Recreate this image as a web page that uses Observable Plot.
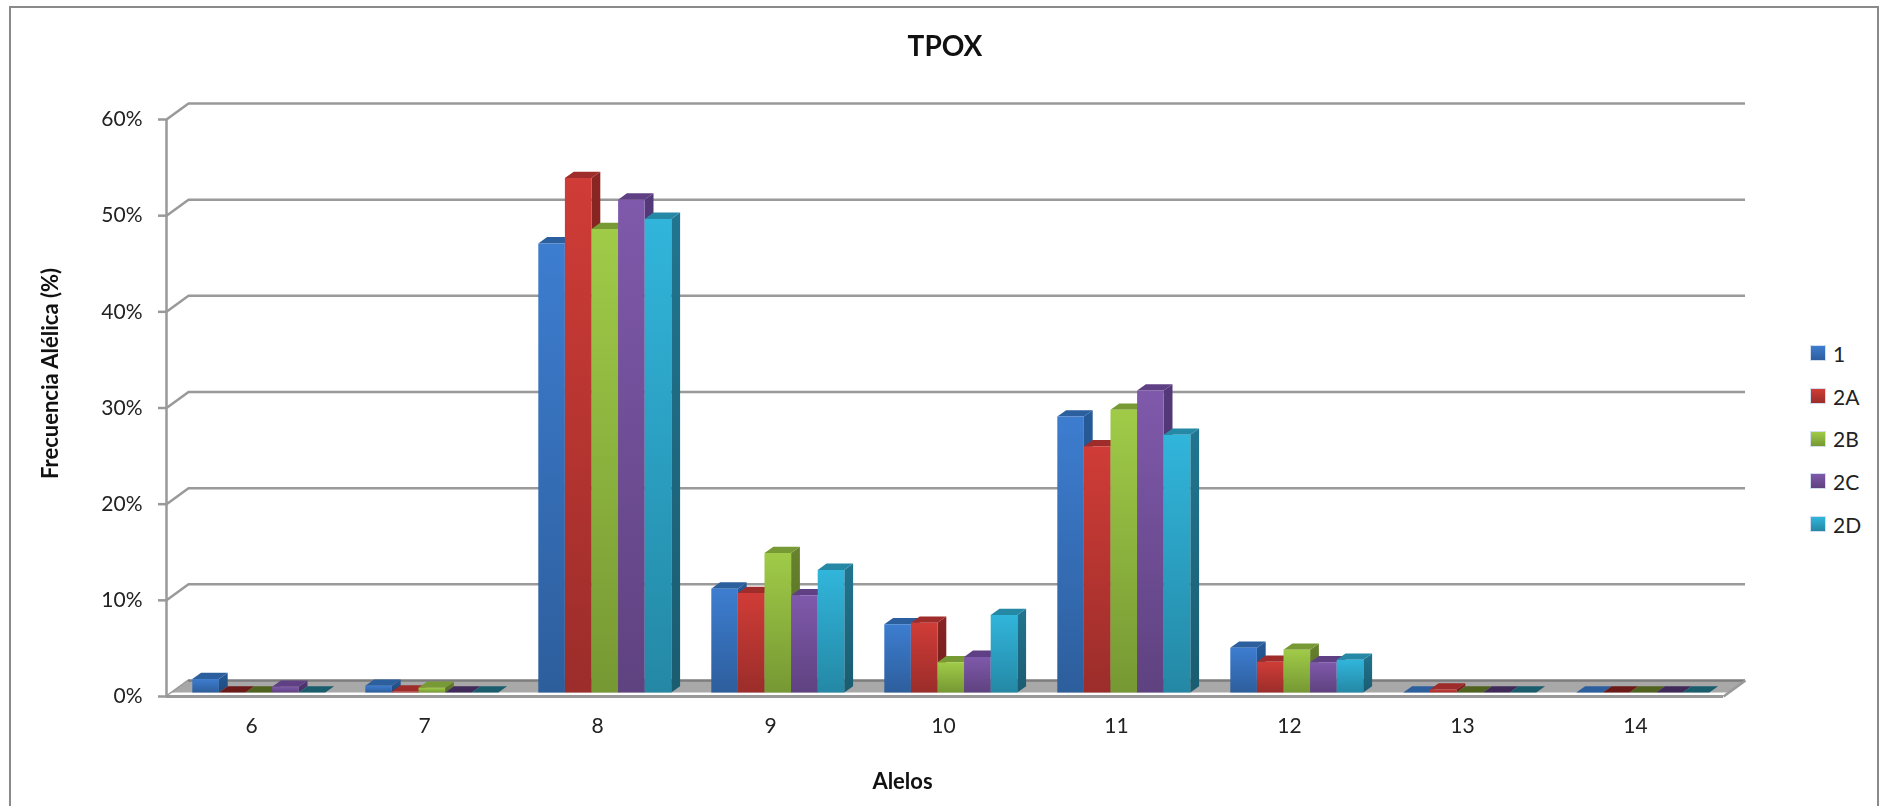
<!DOCTYPE html>
<html lang="es">
<head>
<meta charset="utf-8">
<title>TPOX</title>
<script src="https://cdn.jsdelivr.net/npm/d3@7"></script>
<script src="https://cdn.jsdelivr.net/npm/@observablehq/plot@0.6"></script>
<style>
  html, body { margin: 0; padding: 0; background: #fff; }
  #wrap { position: relative; width: 1881px; height: 806px; overflow: hidden; font-family: Lato, sans-serif; }
  #wrap svg { position: absolute; left: 0; top: 0; filter: blur(0.4px); }
  #border { position: absolute; left: 9px; top: 6px; width: 1870px; height: 820px; border: 2px solid #8a8a8a; box-sizing: border-box; pointer-events: none; }
  #legend { position: absolute; left: 1811px; top: 332px; }
  .item { display: flex; align-items: center; height: 42.7px; font-size: 21px; color: #222; }
  .sw { width: 14px; height: 14px; margin-right: 8px; outline: 1px solid rgba(200,215,235,.8); }
</style>
</head>
<body>
<div id="wrap"><div id="border"></div><div id="legend"></div></div>
<script>
const alleles = ["6", "7", "8", "9", "10", "11", "12", "13", "14"];
const seriesNames = ["1", "2A", "2B", "2C", "2D"];
const s1  = [1.4, 0.7, 46.7, 10.8, 7.1, 28.7, 4.65, 0, 0];
const s2A = [0, 0.1, 53.5, 10.35, 7.25, 25.6, 3.2, 0.3, 0];
const s2B = [0, 0.5, 48.2, 14.5, 3.15, 29.4, 4.45, 0, 0];
const s2C = [0.6, 0, 51.25, 10.1, 3.7, 31.4, 3.15, 0, 0];
const s2D = [0, 0, 49.25, 12.75, 8.05, 26.8, 3.4, 0, 0];
const seriesValues = [s1, s2A, s2B, s2C, s2D];
const yTicks = [0, 10, 20, 30, 40, 50, 60];

const palette = [
  {front: ["#3D7DD0", "#2D5E9C"], side: ["#265A98", "#1F4A7C"], top: "#2B5F9E", zero: "#2B5F9E"},
  {front: ["#D03C37", "#9B2D2A"], side: ["#8A2523", "#6E1D1B"], top: "#9E2C2A", zero: "#6B1A18"},
  {front: ["#A0CB48", "#769833"], side: ["#68822D", "#536824"], top: "#789A34", zero: "#4F621E"},
  {front: ["#7F59AB", "#5F4280"], side: ["#54397A", "#432E60"], top: "#5F4084", zero: "#3F2A5A"},
  {front: ["#31B5DB", "#2488A5"], side: ["#217590", "#1A5C70"], top: "#2589A6", zero: "#1A5E6E"}
];

// Depth of the 3D look, in data units of the two scales
const W = 1881, H = 806;
const X0 = 166, X1 = 1723, Y0 = 696, Y60 = 119;
const pxX = (X1 - X0) / 9, pxY = (Y0 - Y60) / 60;
const backX = 22 / pxX, backY = 16 / pxY;      // wall/floor depth
const barOffset = 25.8 / pxX, barW = 26.6 / pxX;
const baseY = 4 / pxY;                         // bars stand slightly behind the front edge
const depthX = 8.8 / pxX, depthY = 6.3 / pxY;

// Faces drawn back-to-front, left to right
const faces = [];
alleles.forEach((a, i) => {
  seriesValues.forEach((vals, s) => {
    const v = vals[i], p = palette[s];
    const x1 = i + barOffset + s * barW, x2 = x1 + barW;
    const y0 = baseY, yv = v + baseY;
    const add = (part, fill, pts) => pts.forEach(([x, y]) => faces.push({id: `${a}-${s}-${part}`, x, y, fill}));
    if (v > 0) add("side", `url(#side${s})`, [[x2, y0], [x2 + depthX, y0 + depthY], [x2 + depthX, yv + depthY], [x2, yv]]);
    add("top", v > 0 || s === 0 ? p.top : p.zero, [[x1, yv], [x1 + depthX, yv + depthY], [x2 + depthX, yv + depthY], [x2, yv]]);
    if (v > 0) add("front", `url(#front${s})`, [[x1, y0], [x2, y0], [x2, yv], [x1, yv]]);
  });
});

const gridColor = "#999";
const gridWidth = 2.5;
const floorPts = [[backX, backY], [9 + backX, backY], [9 + backX * 0.27, baseY], [backX * 0.27, baseY]];
const slabPts = [[0, 0], [9, 0], [9 + backX * 0.27, baseY], [backX * 0.27, baseY]];

function defs() {
  const d = d3.create("svg:defs");
  palette.forEach((p, s) => {
    for (const part of ["front", "side"]) {
      const g = d.append("linearGradient").attr("id", part + s).attr("x1", 0).attr("x2", 0).attr("y1", 0).attr("y2", 1);
      g.append("stop").attr("offset", "0%").attr("stop-color", p[part][0]);
      g.append("stop").attr("offset", "100%").attr("stop-color", p[part][1]);
    }
  });
  return d.node();
}

const chart = Plot.plot({
  width: W, height: H,
  marginLeft: X0, marginRight: W - X1, marginTop: Y60, marginBottom: H - Y0,
  style: {background: "transparent", fontFamily: "Lato, sans-serif", overflow: "visible"},
  x: {domain: [0, 9], range: [X0, X1]},
  y: {domain: [0, 60], range: [Y0, Y60]},
  color: {type: "identity"},
  marks: [
    defs,
    // back wall gridlines and their diagonals on the side wall
    Plot.ruleY(yTicks.slice(1), {y: d => d + backY, x1: backX, x2: 9 + backX, stroke: gridColor, strokeWidth: gridWidth}),
    Plot.link(yTicks, {x1: 0, y1: d => d, x2: backX, y2: d => d + backY, stroke: gridColor, strokeWidth: gridWidth}),
    // floor
    Plot.line(slabPts, {x: d => d[0], y: d => d[1], fill: "#fff", stroke: "none", curve: "linear-closed"}),
    Plot.line(floorPts, {x: d => d[0], y: d => d[1], fill: "#A8A8A8", stroke: "none", curve: "linear-closed"}),
    Plot.ruleY([backY], {x1: backX, x2: 9 + backX, stroke: "#7d7d7d", strokeWidth: 2.5}),
    Plot.link([0], {x1: 9, y1: 0, x2: 9 + backX, y2: backY, stroke: gridColor, strokeWidth: gridWidth}),
    Plot.ruleY([0], {x1: 0, x2: 9, stroke: gridColor, strokeWidth: 3}),
    // 3D bars
    Plot.line(faces, {x: "x", y: "y", z: "id", fill: "fill", stroke: "none", curve: "linear-closed"}),
    // axes
    Plot.ruleX([0], {y1: 0, y2: 60, stroke: gridColor, strokeWidth: gridWidth}),
    Plot.axisY({ticks: yTicks, tickFormat: d => d + "%", tickSize: 8, tickPadding: 16, fontSize: 21,
      stroke: gridColor, strokeWidth: 2.5, fill: "#222", label: null}),
    Plot.axisX({ticks: alleles.map((_, i) => i + 0.5), tickFormat: d => alleles[d - 0.5], tickSize: 0, tickPadding: 22,
      fontSize: 21, fill: "#222", label: null, dx: -1.5}),
    // titles
    Plot.text(["TPOX"], {frameAnchor: "top", dy: -83, fontSize: 28, fontWeight: 700, fill: "#111"}),
    Plot.text(["Frecuencia Alélica (%)"], {frameAnchor: "left", textAnchor: "middle", rotate: -90, dx: -116, dy: -34.5,
      fontSize: 22, fontWeight: 700, fill: "#111"}),
    Plot.text(["Alelos"], {frameAnchor: "bottom", dx: -42.5, dy: 92, fontSize: 22, fontWeight: 700, fill: "#111"})
  ]
});
document.getElementById("wrap").prepend(chart);

const legend = d3.select("#legend");
seriesNames.forEach((n, s) => {
  const it = legend.append("div").attr("class", "item");
  it.append("div").attr("class", "sw").style("background", `linear-gradient(${palette[s].front[0]}, ${palette[s].front[1]})`);
  it.append("div").text(n);
});
</script>
</body>
</html>
